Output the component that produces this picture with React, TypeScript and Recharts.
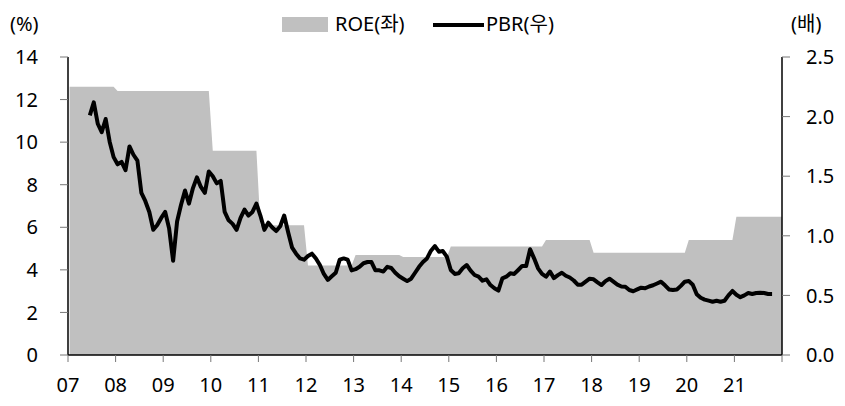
import React from 'react';
import { ComposedChart, Area, Line, XAxis, YAxis } from 'recharts';

// Year labels (x-axis), one per year starting 2007
const yearLabels = ['07', '08', '09', '10', '11', '12', '13', '14', '15', '16', '17', '18', '19', '20', '21'];

// ROE (%) yearly levels, left axis
const roeByYear = [12.6, 12.4, 12.4, 9.6, 6.1, 4.2, 4.7, 4.6, 5.1, 5.1, 5.4, 4.8, 4.8, 5.4, 6.5];

// PBR (x) monthly, right axis, starting June 2007 (month index 5)
const pbrStartMonth = 5;
const pbrMonthly = [
  2.01, 2.12, 1.94, 1.87, 1.98, 1.79, 1.66, 1.60, 1.62, 1.55, 1.75, 1.68, 1.63, 1.36, 1.29, 1.20, 1.05, 1.09, 1.15, 1.20,
  1.06, 0.79, 1.12, 1.26, 1.38, 1.27, 1.40, 1.49,
  1.41, 1.36, 1.54, 1.50, 1.44, 1.46, 1.20, 1.13, 1.10, 1.05, 1.15, 1.22, 1.17, 1.20, 1.27, 1.17, 1.05, 1.11, 1.07, 1.04,
  1.08, 1.17, 1.03, 0.90, 0.85, 0.81, 0.80, 0.83, 0.85, 0.81,
  0.755, 0.68, 0.63, 0.66, 0.69, 0.80, 0.81, 0.80, 0.71, 0.72, 0.74, 0.77, 0.78, 0.78, 0.71, 0.71, 0.70, 0.74, 0.73, 0.69,
  0.66, 0.64, 0.62, 0.64, 0.69, 0.74, 0.78, 0.81,
  0.875, 0.914, 0.867, 0.872, 0.825, 0.713, 0.68, 0.685, 0.727, 0.755, 0.707, 0.671, 0.657, 0.623, 0.635, 0.587, 0.56, 0.54,
  0.643, 0.657, 0.685, 0.68, 0.713, 0.747, 0.747, 0.887, 0.811, 0.727, 0.68, 0.657,
  0.70, 0.645, 0.67, 0.69, 0.665, 0.65, 0.625, 0.59, 0.59, 0.615, 0.64, 0.635, 0.61, 0.587, 0.62, 0.64, 0.615, 0.59, 0.575,
  0.573, 0.545, 0.535, 0.55, 0.565, 0.56, 0.575, 0.585, 0.60, 0.615, 0.585, 0.55, 0.545, 0.55, 0.58, 0.615, 0.62, 0.59,
  0.51, 0.48, 0.465, 0.456, 0.447, 0.455, 0.447, 0.455, 0.50, 0.537, 0.505, 0.485, 0.50, 0.52, 0.512, 0.52, 0.523, 0.52,
  0.512, 0.512,
];

const leftTicks = [0, 2, 4, 6, 8, 10, 12, 14];
const rightTicks = [0, 0.5, 1.0, 1.5, 2.0, 2.5];

const totalMonths = yearLabels.length * 12;
const xTicks = Array.from({ length: yearLabels.length + 1 }, (_, i) => i * 12);

const roeData: { x: number; roe: number }[] = [];
roeByYear.forEach((v, i) => {
  roeData.push({ x: i === 0 ? 0.4 : i * 12 + 0.5, roe: v });
  roeData.push({ x: i === roeByYear.length - 1 ? totalMonths : i * 12 + 11.5, roe: v });
});

const pbrData = pbrMonthly.map((v, i) => ({ x: pbrStartMonth + i + 0.5, pbr: v }));

const FONT = '"Noto Sans", "Noto Sans CJK KR", sans-serif';
const FS = 20;
const tickStyle = { fontFamily: FONT, fontSize: FS, fill: '#000' };

const textStyle: React.CSSProperties = {
  position: 'absolute',
  fontFamily: FONT,
  fontSize: FS,
  lineHeight: '22px',
  color: '#000',
  whiteSpace: 'nowrap',
};

export default function App() {
  return (
    <div style={{ position: 'absolute', left: 0, top: 0, width: 845, height: 406, background: '#fff' }}>
      <ComposedChart width={845} height={406} margin={{ top: 57, right: 0, bottom: 0, left: 0 }}>
        <XAxis
          dataKey="x"
          type="number"
          domain={[0, totalMonths]}
          ticks={xTicks}
          interval={0}
          tickFormatter={(v: number) => yearLabels[Math.round(v / 12)] ?? ''}
          height={51}
          tickSize={7}
          tickMargin={16}
          axisLine={{ stroke: '#000', strokeWidth: 1.5 }}
          tickLine={{ stroke: '#777' }}
          tick={tickStyle}
        />
        <YAxis
          yAxisId="left"
          orientation="left"
          domain={[0, 14]}
          ticks={leftTicks}
          interval={0}
          width={68}
          tickSize={8}
          tickMargin={22}
          axisLine={{ stroke: '#000', strokeWidth: 1.5 }}
          tickLine={{ stroke: '#777' }}
          tick={tickStyle}
        />
        <YAxis
          yAxisId="right"
          orientation="right"
          domain={[0, 2.5]}
          ticks={rightTicks}
          interval={0}
          width={63}
          tickSize={8}
          tickMargin={16}
          tickFormatter={(v: number) => v.toFixed(1)}
          axisLine={{ stroke: '#000', strokeWidth: 1.5 }}
          tickLine={{ stroke: '#777' }}
          tick={tickStyle}
        />
        <Area
          yAxisId="left"
          data={roeData}
          dataKey="roe"
          type="linear"
          stroke="none"
          fill="#c0c0c0"
          fillOpacity={1}
          isAnimationActive={false}
        />
        <Line
          yAxisId="right"
          data={pbrData}
          dataKey="pbr"
          type="linear"
          stroke="#000"
          strokeWidth={4}
          strokeLinejoin="round"
          dot={false}
          activeDot={false}
          isAnimationActive={false}
        />
      </ComposedChart>
      <span style={{ ...textStyle, left: 10, top: 13 }}>(%)</span>
      <span style={{ ...textStyle, left: 791, top: 13 }}>(배)</span>
      <div style={{ position: 'absolute', left: 282, top: 17, width: 46, height: 15, background: '#c0c0c0' }} />
      <span style={{ ...textStyle, left: 335, top: 13 }}>ROE(좌)</span>
      <div style={{ position: 'absolute', left: 433, top: 23, width: 51, height: 4, background: '#000' }} />
      <span style={{ ...textStyle, left: 486, top: 13 }}>PBR(우)</span>
    </div>
  );
}
